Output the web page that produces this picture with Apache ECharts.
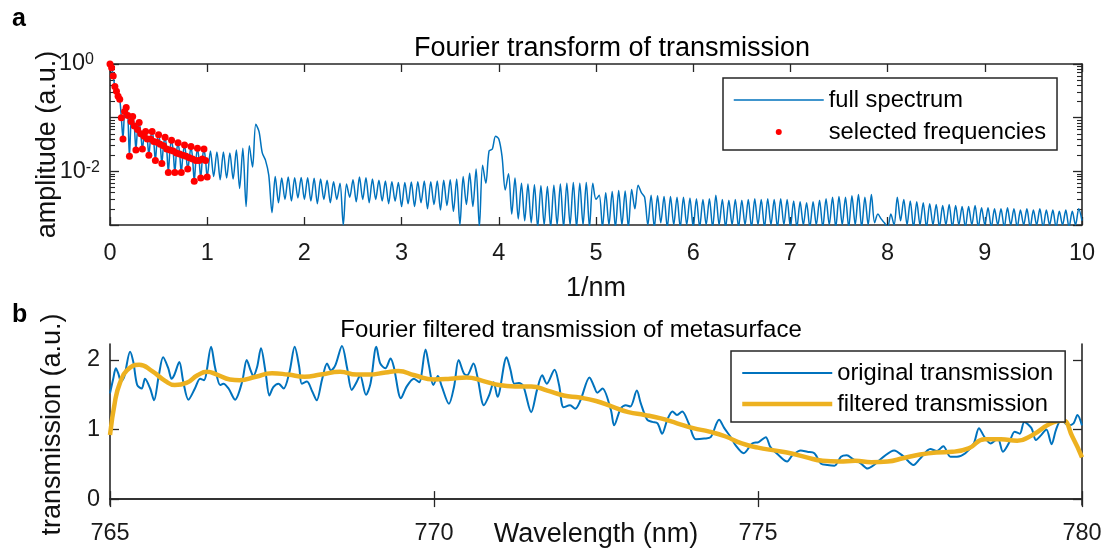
<!DOCTYPE html>
<html>
<head>
<meta charset="utf-8">
<title>Fourier filtering of metasurface transmission</title>
<script src="https://cdn.jsdelivr.net/npm/echarts@6/dist/echarts.min.js"></script>
<style>
  html, body { margin: 0; padding: 0; background: #fff; }
  #chart { width: 1108px; height: 554px; }
</style>
</head>
<body>
<div id="chart"></div>
<script>
// ---- Panel a: amplitude spectrum ----
// Low-frequency part (0 .. 1 nm^-1), sampled every 1/60 nm^-1; these are the selected frequencies.
const selectedAmp = [
  1.00, 0.85, 0.60, 0.38, 0.31, 0.25, 0.22, 0.10, 0.040, 0.13,
  0.155, 0.11, 0.019, 0.085, 0.105, 0.070, 0.025, 0.060, 0.081, 0.050,
  0.026, 0.045, 0.055, 0.040, 0.020, 0.040, 0.055, 0.036, 0.016, 0.035,
  0.048, 0.032, 0.014, 0.030, 0.043, 0.026, 0.0095, 0.025, 0.038, 0.024,
  0.0095, 0.022, 0.034, 0.021, 0.0095, 0.020, 0.031, 0.019, 0.011, 0.018,
  0.029, 0.017, 0.0065, 0.016, 0.027, 0.016, 0.0075, 0.017, 0.026, 0.016,
  0.0078
];
// Remaining spectrum, one array per 1 nm^-1 span, sampled every 1/30 nm^-1.
const amp1to2 = [0.024, 0.008, 0.023, 0.007, 0.023, 0.0075, 0.022, 0.0072, 0.025, 0.0048, 0.027, 0.0022, 0.030, 0.012, 0.075, 0.055, 0.022, 0.016, 0.0085, 0.0017, 0.0080, 0.0026, 0.0075, 0.0030, 0.0078, 0.0028, 0.0076, 0.0032, 0.0077, 0.0030];
const amp2to3 = [0.0076, 0.0028, 0.0074, 0.0025, 0.0072, 0.0030, 0.0068, 0.0026, 0.0064, 0.0030, 0.0060, 0.0010, 0.0058, 0.0033, 0.0070, 0.0027, 0.0078, 0.0030, 0.0076, 0.0026, 0.0072, 0.0030, 0.0068, 0.0028, 0.0066, 0.0025, 0.0064, 0.0028, 0.0062, 0.0022];
const amp3to4 = [0.0062, 0.0025, 0.0063, 0.0022, 0.0064, 0.0026, 0.0066, 0.0020, 0.0064, 0.0024, 0.0066, 0.0019, 0.0068, 0.0023, 0.0070, 0.0018, 0.0072, 0.0010, 0.0080, 0.0024, 0.0092, 0.0022, 0.0110, 0.0009, 0.0130, 0.0060, 0.0240, 0.0260, 0.0450, 0.0400];
const amp4to5 = [0.019, 0.0045, 0.0090, 0.0016, 0.0075, 0.0013, 0.0060, 0.0012, 0.0058, 0.0011, 0.0056, 0.0009, 0.0054, 0.0010, 0.0052, 0.0009, 0.0055, 0.0010, 0.0058, 0.0009, 0.0060, 0.0010, 0.0062, 0.0009, 0.0060, 0.0010, 0.0062, 0.0009, 0.0060, 0.0030];
const amp5to6 = [0.0036, 0.0009, 0.0040, 0.0010, 0.0042, 0.0009, 0.0044, 0.0010, 0.0043, 0.0009, 0.0046, 0.0020, 0.0055, 0.0040, 0.0033, 0.0010, 0.0036, 0.0009, 0.0035, 0.0011, 0.0034, 0.0009, 0.0034, 0.0010, 0.0033, 0.0009, 0.0033, 0.0010, 0.0032, 0.0009];
const amp6to7 = [0.0031, 0.0009, 0.0030, 0.0010, 0.0031, 0.0009, 0.0036, 0.0010, 0.0030, 0.0009, 0.0029, 0.0010, 0.0030, 0.0009, 0.0029, 0.0010, 0.0030, 0.0009, 0.0031, 0.0010, 0.0030, 0.0009, 0.0031, 0.0010, 0.0030, 0.0009, 0.0031, 0.0010, 0.0030, 0.0009];
const amp7to8 = [0.0028, 0.0009, 0.0027, 0.0010, 0.0026, 0.0009, 0.0027, 0.0010, 0.0029, 0.0009, 0.0031, 0.0010, 0.0033, 0.0009, 0.0034, 0.0010, 0.0033, 0.0009, 0.0035, 0.0010, 0.0037, 0.0009, 0.0033, 0.0010, 0.0037, 0.0011, 0.0016, 0.0013, 0.0011, 0.0009];
const amp8to9 = [0.0016, 0.0010, 0.0033, 0.0012, 0.0030, 0.0010, 0.0028, 0.0009, 0.0027, 0.0010, 0.0026, 0.0009, 0.0025, 0.0010, 0.0024, 0.0009, 0.0023, 0.0010, 0.0024, 0.0009, 0.0023, 0.0010, 0.0022, 0.0009, 0.0022, 0.0010, 0.0023, 0.0009, 0.0021, 0.0010];
const amp9to10 = [0.0021, 0.0009, 0.0020, 0.0010, 0.0020, 0.0009, 0.0021, 0.0010, 0.0020, 0.0009, 0.0019, 0.0010, 0.0020, 0.0009, 0.0019, 0.0010, 0.0020, 0.0009, 0.0019, 0.0010, 0.0019, 0.0009, 0.0018, 0.0010, 0.0019, 0.0009, 0.0018, 0.0010, 0.0020, 0.0012];
const LOW_STEP = 1 / 60;
const HIGH_STEP = 1 / 30;

const freqTicks = [0, 1, 2, 3, 4, 5, 6, 7, 8, 9, 10];
const ampMajorTicks = [0.001, 0.01, 0.1, 1];
const ampMinorTicks = [0.002, 0.003, 0.004, 0.005, 0.006, 0.007, 0.008, 0.009,
                       0.02, 0.03, 0.04, 0.05, 0.06, 0.07, 0.08, 0.09,
                       0.2, 0.3, 0.4, 0.5, 0.6, 0.7, 0.8, 0.9];
const ampLabelTicks = [0.01, 1];

// ---- Panel b: transmission spectra ----
const origWavelength = [
  765.00, 765.05, 765.09, 765.13, 765.17, 765.22, 765.31, 765.36, 765.42, 765.49,
  765.54, 765.62, 765.68, 765.75, 765.82, 765.90, 765.95, 765.99, 766.07, 766.13,
  766.21, 766.31, 766.39, 766.45, 766.56, 766.62, 766.70, 766.75, 766.83, 766.93,
  767.04, 767.11, 767.17, 767.21, 767.27, 767.33, 767.40, 767.46, 767.52, 767.60,
  767.68, 767.77, 767.85, 767.92, 767.96, 768.04, 768.12, 768.19, 768.27, 768.35,
  768.41, 768.48, 768.58, 768.66, 768.73, 768.81, 768.86, 768.95, 769.02, 769.11,
  769.17, 769.25, 769.33, 769.38, 769.49, 769.58, 769.69, 769.77, 769.87, 769.92,
  769.99, 770.06, 770.12, 770.23, 770.31, 770.38, 770.46, 770.51, 770.61, 770.67,
  770.77, 770.85, 770.92, 770.98, 771.12, 771.18, 771.24, 771.31, 771.38, 771.50,
  771.59, 771.67, 771.74, 771.86, 771.93, 772.00, 772.10, 772.18, 772.26, 772.40,
  772.47, 772.52, 772.60, 772.73, 772.78, 772.88, 772.96, 773.03, 773.13, 773.19,
  773.29, 773.37, 773.45, 773.52, 773.60, 773.68, 773.75, 773.83, 773.93, 774.04,
  774.17, 774.27, 774.40, 774.48, 774.58, 774.65, 774.78, 774.91, 775.01, 775.12,
  775.19, 775.32, 775.45, 775.53, 775.66, 775.76, 775.87, 775.97, 776.07, 776.18,
  776.28, 776.37, 776.46, 776.59, 776.69, 776.79, 776.94, 777.10, 777.25, 777.40,
  777.50, 777.66, 777.76, 777.86, 777.97, 778.07, 778.20, 778.33, 778.41, 778.49,
  778.59, 778.70, 778.78, 778.88, 778.96, 779.04, 779.11, 779.22, 779.29, 779.37,
  779.45, 779.53, 779.60, 779.68, 779.79, 779.87, 779.93, 780.00
];
const origTransmission = [
  1.52, 1.73, 1.88, 1.80, 1.69, 1.76, 2.12, 1.97, 1.64, 1.59,
  1.73, 1.59, 1.42, 1.76, 2.04, 1.88, 1.73, 1.78, 1.97, 1.69,
  1.43, 1.59, 1.73, 1.71, 2.19, 1.90, 1.64, 1.66, 1.59, 1.43,
  1.69, 2.00, 1.85, 1.77, 1.90, 2.17, 1.83, 1.49, 1.61, 1.66,
  1.59, 1.83, 2.19, 1.90, 1.66, 1.69, 1.55, 1.42, 1.71, 1.95,
  1.85, 1.93, 2.20, 1.88, 1.57, 1.69, 1.78, 1.50, 1.66, 2.19,
  1.95, 1.88, 2.02, 1.90, 1.45, 1.62, 1.73, 1.68, 2.15, 1.93,
  1.64, 1.77, 1.62, 1.37, 1.62, 2.00, 1.81, 1.78, 1.95, 1.76,
  1.35, 1.49, 1.68, 1.47, 2.04, 1.86, 1.66, 1.67, 1.62, 1.25,
  1.57, 1.78, 1.66, 1.86, 1.64, 1.32, 1.35, 1.30, 1.42, 1.75,
  1.62, 1.53, 1.59, 1.28, 1.06, 1.30, 1.35, 1.33, 1.56, 1.38,
  1.14, 1.11, 1.09, 0.94, 1.14, 1.26, 1.21, 1.26, 1.09, 0.86,
  0.87, 0.89, 1.14, 1.02, 0.89, 0.78, 0.66, 0.80, 0.82, 0.89,
  0.75, 0.63, 0.54, 0.63, 0.70, 0.68, 0.66, 0.51, 0.49, 0.48,
  0.61, 0.63, 0.58, 0.51, 0.44, 0.49, 0.61, 0.70, 0.61, 0.49,
  0.58, 0.72, 0.69, 0.76, 0.61, 0.61, 0.66, 0.80, 1.02, 0.90,
  0.80, 0.87, 0.68, 0.82, 0.97, 0.94, 1.11, 1.02, 0.85, 0.92,
  1.00, 0.79, 1.00, 1.14, 1.06, 1.09, 1.21, 1.06
];
const filtWavelength = [
  765.00, 765.08, 765.15, 765.26, 765.45, 765.65, 765.85, 766.00, 766.18, 766.35,
  766.50, 766.65, 766.85, 767.00, 767.25, 767.50, 767.75, 768.00, 768.25, 768.55,
  768.80, 769.00, 769.25, 769.45, 769.70, 770.00, 770.25, 770.50, 770.75, 771.00,
  771.25, 771.50, 771.75, 772.00, 772.25, 772.50, 772.75, 773.00, 773.25, 773.50,
  773.75, 774.00, 774.25, 774.50, 774.75, 775.00, 775.25, 775.50, 775.75, 776.00,
  776.25, 776.50, 776.75, 777.00, 777.25, 777.50, 777.75, 778.00, 778.25, 778.50,
  778.75, 779.00, 779.25, 779.50, 779.70, 779.85, 780.00
];
const filtTransmission = [
  0.92, 1.42, 1.66, 1.85, 1.93, 1.84, 1.70, 1.64, 1.67, 1.78,
  1.83, 1.79, 1.72, 1.71, 1.76, 1.81, 1.79, 1.76, 1.79, 1.83,
  1.79, 1.79, 1.82, 1.84, 1.78, 1.72, 1.73, 1.75, 1.70, 1.64,
  1.62, 1.62, 1.56, 1.49, 1.46, 1.41, 1.33, 1.25, 1.21, 1.16,
  1.09, 1.02, 0.97, 0.90, 0.80, 0.74, 0.70, 0.66, 0.60, 0.55,
  0.54, 0.55, 0.53, 0.54, 0.59, 0.64, 0.67, 0.68, 0.73, 0.86,
  0.86, 0.84, 0.93, 1.08, 1.13, 0.90, 0.60
];
const transTicks = [0, 1, 2];

// ---- assemble series data ----
const selectedPoints = selectedAmp.map((a, i) => [i * LOW_STEP, a]);
const spectrumPoints = selectedPoints.slice();
[amp1to2, amp2to3, amp3to4, amp4to5, amp5to6, amp6to7, amp7to8, amp8to9, amp9to10]
  .forEach((arr, u) => arr.forEach((a, j) => spectrumPoints.push([1 + u + (j + 1) * HIGH_STEP, a])));
const origPoints = origWavelength.map((w, i) => [w, origTransmission[i]]);
const filtPoints = filtWavelength.map((w, i) => [w, filtTransmission[i]]);

// ---- styling ----
const FONT = '"Liberation Sans", Arial, Helvetica, sans-serif';
const AXIS_COLOR = '#262626';
const BLUE = '#0072BD';
const RED = '#FF0000';
const GOLD = '#EDB120';

const axisLineStyle = { show: true, lineStyle: { color: AXIS_COLOR, width: 1.6 } };
const tickLabelStyle = { color: '#1a1a1a', fontSize: 23.5, fontFamily: FONT };
const axisNameStyle = { color: '#111', fontSize: 27, fontFamily: FONT };
const tickStyle = { color: AXIS_COLOR, width: 1.3 };

function sideAxis(base) {
  return Object.assign({ splitLine: { show: false }, axisLine: axisLineStyle, nameMoveOverlap: false }, base);
}

// "10" followed by a raised exponent; short exponents get trailing room so the bases line up
function powerLabel(v) {
  const exp = Math.round(Math.log10(v));
  return '{b|10}' + (exp < 0 ? '{e|' + exp + '}' : '{ep|' + exp + '}');
}

const chart = echarts.init(document.getElementById('chart'), null, { renderer: 'canvas' });

const legendCommon = {
  orient: 'vertical', itemWidth: 90, itemHeight: 6,
  backgroundColor: '#fff', borderColor: AXIS_COLOR, borderWidth: 1.5, borderRadius: 0,
  selectedMode: false,
  lineStyle: { width: 'inherit' },
  textStyle: { fontSize: 23.7, lineHeight: 24, color: '#000', fontFamily: FONT }
};

const option = {
  backgroundColor: '#fff',
  animation: false,
  title: [
    { text: 'Fourier transform of transmission', left: 612, top: 35, textAlign: 'center', padding: 0,
      textStyle: { fontSize: 27, fontWeight: 'normal', color: '#000', fontFamily: FONT } },
    { text: 'Fourier filtered transmission of metasurface', left: 571, top: 318, textAlign: 'center', padding: 0,
      textStyle: { fontSize: 24, fontWeight: 'normal', color: '#000', fontFamily: FONT } }
  ],
  graphic: [
    { type: 'text', left: 12, top: 7, style: { text: 'a', font: 'bold 25px ' + FONT, fill: '#000' } },
    { type: 'text', left: 12, top: 303, style: { text: 'b', font: 'bold 25px ' + FONT, fill: '#000' } }
  ],
  legend: [
    Object.assign({}, legendCommon, {
      data: [{ name: 'full spectrum', itemStyle: { opacity: 0 } }, { name: 'selected frequencies' }],
      left: 723, top: 78, padding: [10, 11, 6, 10], itemGap: 8
    }),
    Object.assign({}, legendCommon, {
      data: [{ name: 'original transmission', itemStyle: { opacity: 0 } },
             { name: 'filtered transmission', itemStyle: { opacity: 0 } }],
      left: 731, top: 351, padding: [10, 12, 6, 9], itemGap: 7
    })
  ],
  grid: [
    { left: 110, top: 64, width: 972, height: 161, containLabel: false, outerBoundsMode: 'none' },
    { left: 110, top: 344, width: 972, height: 161, containLabel: false, outerBoundsMode: 'none' }
  ],
  xAxis: [
    sideAxis({ gridIndex: 0, type: 'value', position: 'bottom', min: 0, max: 10, interval: 1,
      axisTick: { show: true, inside: true, length: 8, lineStyle: tickStyle },
      axisLabel: Object.assign({ show: true, margin: 17, customValues: freqTicks }, tickLabelStyle),
      name: '1/nm', nameLocation: 'middle', nameGap: 50, nameTextStyle: axisNameStyle }),
    sideAxis({ gridIndex: 0, type: 'value', position: 'top', min: 0, max: 10, interval: 1,
      axisTick: { show: true, inside: true, length: 8, lineStyle: tickStyle },
      axisLabel: { show: false } }),
    sideAxis({ gridIndex: 1, type: 'value', position: 'bottom', min: 765, max: 780, interval: 5,
      axisTick: { show: true, inside: true, length: 8, lineStyle: tickStyle },
      axisLabel: Object.assign({ show: true, margin: 17 }, tickLabelStyle),
      name: 'Wavelength (nm)', nameLocation: 'middle', nameGap: 16, nameTextStyle: axisNameStyle }),
    sideAxis({ gridIndex: 1, type: 'value', position: 'top', min: 765, max: 780, interval: 5,
      axisTick: { show: true, inside: true, length: 8, lineStyle: tickStyle },
      axisLabel: { show: false } })
  ],
  yAxis: [
    // panel a, left: major ticks + labels
    sideAxis({ gridIndex: 0, type: 'log', logBase: 10, position: 'left', min: 0.001, max: 1,
      axisTick: { show: true, inside: true, length: 9, customValues: ampMajorTicks, lineStyle: tickStyle },
      axisLabel: {
        show: true, margin: 10, customValues: ampLabelTicks, color: '#1a1a1a',
        formatter: powerLabel,
        rich: {
          b: { fontSize: 23.5, fontFamily: FONT, color: '#1a1a1a', verticalAlign: 'bottom' },
          e: { fontSize: 16, fontFamily: FONT, color: '#1a1a1a', verticalAlign: 'top' },
          ep: { fontSize: 16, fontFamily: FONT, color: '#1a1a1a', verticalAlign: 'top', padding: [0, 6, 0, 0] }
        }
      },
      name: 'amplitude (a.u.)', nameLocation: 'middle', nameGap: 49, nameTextStyle: axisNameStyle }),
    // panel a, left: minor ticks
    sideAxis({ gridIndex: 0, type: 'log', logBase: 10, position: 'left', min: 0.001, max: 1,
      axisLine: { show: false },
      axisTick: { show: true, inside: true, length: 5, customValues: ampMinorTicks,
                  lineStyle: { color: AXIS_COLOR, width: 1.1 } },
      axisLabel: { show: false } }),
    // panel a, right: major ticks
    sideAxis({ gridIndex: 0, type: 'log', logBase: 10, position: 'right', min: 0.001, max: 1,
      axisTick: { show: true, inside: true, length: 9, customValues: ampMajorTicks, lineStyle: tickStyle },
      axisLabel: { show: false } }),
    // panel a, right: minor ticks
    sideAxis({ gridIndex: 0, type: 'log', logBase: 10, position: 'right', min: 0.001, max: 1,
      axisLine: { show: false },
      axisTick: { show: true, inside: true, length: 5, customValues: ampMinorTicks,
                  lineStyle: { color: AXIS_COLOR, width: 1.1 } },
      axisLabel: { show: false } }),
    // panel b, left
    sideAxis({ gridIndex: 1, type: 'value', position: 'left', min: -0.085, max: 2.23,
      axisTick: { show: true, inside: true, length: 9, customValues: transTicks, lineStyle: tickStyle },
      axisLabel: Object.assign({ show: true, margin: 10, customValues: transTicks }, tickLabelStyle),
      name: 'transmission (a.u.)', nameLocation: 'middle', nameGap: 44, nameTextStyle: axisNameStyle }),
    // panel b, right
    sideAxis({ gridIndex: 1, type: 'value', position: 'right', min: -0.085, max: 2.23,
      axisTick: { show: true, inside: true, length: 9, customValues: transTicks, lineStyle: tickStyle },
      axisLabel: { show: false } })
  ],
  series: [
    {
      name: 'full spectrum', type: 'line', xAxisIndex: 0, yAxisIndex: 0,
      data: spectrumPoints, symbol: 'none', smooth: 0.3, clip: true,
      lineStyle: { color: BLUE, width: 1.5 }, itemStyle: { color: BLUE }, z: 2
    },
    {
      name: 'selected frequencies', type: 'scatter', xAxisIndex: 0, yAxisIndex: 0,
      data: selectedPoints, symbol: 'circle', symbolSize: 7,
      itemStyle: { color: RED, opacity: 1 }, z: 3
    },
    {
      name: 'original transmission', type: 'line', xAxisIndex: 2, yAxisIndex: 4,
      data: origPoints, symbol: 'none', smooth: 0.3, clip: true,
      lineStyle: { color: BLUE, width: 2 }, itemStyle: { color: BLUE }, z: 2
    },
    {
      name: 'filtered transmission', type: 'line', xAxisIndex: 2, yAxisIndex: 4,
      data: filtPoints, symbol: 'none', smooth: 0.5, clip: true,
      lineStyle: { color: GOLD, width: 4.5 }, itemStyle: { color: GOLD }, z: 3
    }
  ]
};

chart.setOption(option);
</script>
</body>
</html>
